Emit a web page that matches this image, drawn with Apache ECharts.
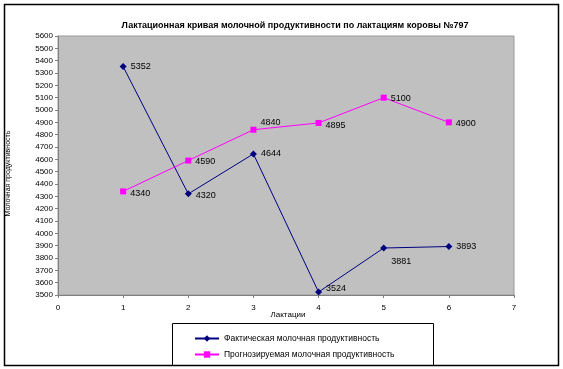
<!DOCTYPE html>
<html>
<head>
<meta charset="utf-8">
<script src="https://cdn.jsdelivr.net/npm/echarts@6/dist/echarts.min.js"></script>
<style>
html,body{margin:0;padding:0;background:#fff;}
#chart{width:563px;height:369px;}
</style>
</head>
<body>
<div id="chart"></div>
<script>
const titleText = "Лактационная кривая молочной продуктивности по лактациям коровы №797";
const xAxisName = "Лактации";
const yAxisName = "Молочная продуктивность";
const lactations = [1, 2, 3, 4, 5, 6];
const actualName = "Фактическая молочная продуктивность";
const actualValues = [5352, 4320, 4644, 3524, 3881, 3893];
const forecastName = "Прогнозируемая молочная продуктивность";
const forecastValues = [4340, 4590, 4840, 4895, 5100, 4900];

// label vertical nudges (styling only)
const actualLabelDy = [0, 2, 0, -4, 14, 0];
const forecastLabelDy = [2, 1, -7, 3, 1, 1];

const font = "Liberation Sans";

function build(vals, dys) {
  return vals.map((v, i) => ({
    value: [lactations[i], v],
    label: { offset: [0, dys[i]] }
  }));
}

const chart = echarts.init(document.getElementById('chart'), null, {renderer: 'canvas'});
chart.setOption({
  animation: false,
  backgroundColor: '#ffffff',
  title: {
    text: titleText,
    left: 290, top: 16, textAlign: 'center',
    textStyle: { fontFamily: font, fontSize: 9, fontWeight: 'bold', color: '#000' }
  },
  grid: {
    left: 58, right: 49, top: 36, bottom: 74,
    outerBoundsMode: 'none', containLabel: false,
    show: true, backgroundColor: '#C0C0C0', borderColor: '#9a9a9a', borderWidth: 1
  },
  xAxis: {
    type: 'value', min: 0, max: 7, interval: 1,
    name: xAxisName, nameLocation: 'middle', nameGap: 16, nameMoveOverlap: false,
    nameTextStyle: { fontFamily: font, fontSize: 8, color: '#000', padding: [0, 0, 0, 4] },
    axisLine: { show: true, lineStyle: { color: '#808080', width: 1 } },
    axisTick: { show: true, length: 3, lineStyle: { color: '#808080' } },
    axisLabel: { fontFamily: font, fontSize: 8, color: '#000', margin: 9, formatter: v => String(v) },
    splitLine: { show: false }
  },
  yAxis: {
    type: 'value', min: 3500, max: 5600, interval: 100,
    name: yAxisName, nameLocation: 'middle', nameGap: 46, nameRotate: 90, nameMoveOverlap: false,
    nameTextStyle: { fontFamily: font, fontSize: 7, color: '#000', padding: [0, 16, 0, 0] },
    axisLine: { show: true, lineStyle: { color: '#808080', width: 1 } },
    axisTick: { show: true, length: 3, lineStyle: { color: '#808080' } },
    axisLabel: { fontFamily: font, fontSize: 8, color: '#000', margin: 5, formatter: v => String(v) },
    splitLine: { show: false }
  },
  legend: {
    orient: 'vertical', left: 189, top: 329, itemGap: 7,
    itemWidth: 24, itemHeight: 8,
    textStyle: { fontFamily: font, fontSize: 8.5, color: '#000' },
    data: [actualName, forecastName]
  },
  series: [
    {
      name: actualName, type: 'line',
      data: build(actualValues, actualLabelDy),
      symbol: 'diamond', symbolSize: 7,
      lineStyle: { color: '#000080', width: 1 },
      itemStyle: { color: '#000080' },
      label: { show: true, position: 'right', distance: 4, fontFamily: font, fontSize: 9, color: '#000',
        formatter: p => String(p.value[1]) }
    },
    {
      name: forecastName, type: 'line',
      data: build(forecastValues, forecastLabelDy),
      symbol: 'rect', symbolSize: 6,
      lineStyle: { color: '#FF00FF', width: 1 },
      itemStyle: { color: '#FF00FF' },
      label: { show: true, position: 'right', distance: 4, fontFamily: font, fontSize: 9, color: '#000',
        formatter: p => String(p.value[1]) }
    }
  ],
  graphic: [
    { type: 'rect', shape: { x: 4.5, y: 4.5, width: 554, height: 361 },
      style: { fill: 'none', stroke: '#000', lineWidth: 1.5 }, silent: true, z: 100 },
    { type: 'rect', shape: { x: 172.5, y: 323.5, width: 261, height: 42 },
      style: { fill: 'none', stroke: '#000', lineWidth: 1 }, silent: true, z: 100 }
  ]
});
</script>
</body>
</html>
